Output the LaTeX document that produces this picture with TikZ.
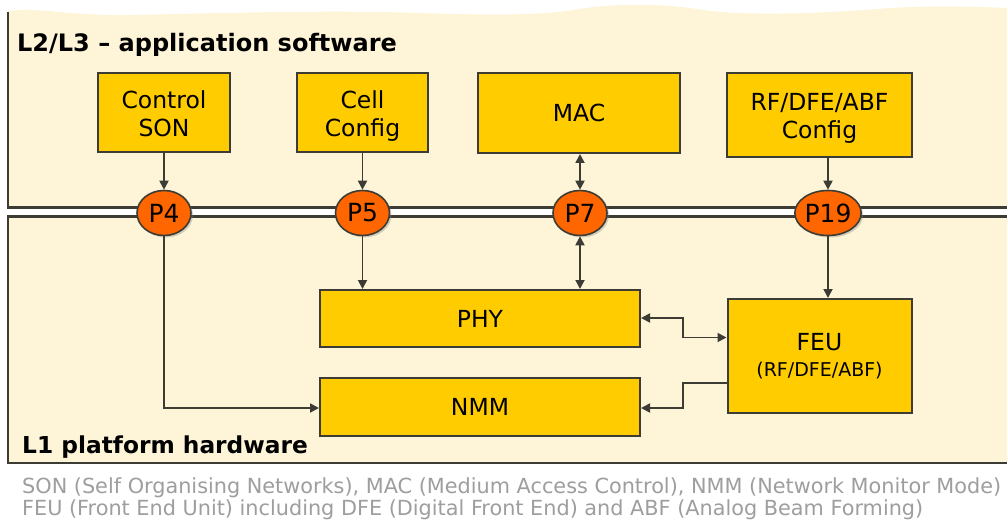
\documentclass[tikz,border=0pt]{standalone}
\usepackage{fontspec}
\setmainfont{DejaVu Sans}
\usetikzlibrary{arrows.meta,shapes.geometric,shadows}
\definecolor{panel}{HTML}{FEF5D8}
\definecolor{boxfill}{HTML}{FFCC00}
\definecolor{edge}{HTML}{3C3C35}
\definecolor{portfill}{HTML}{FF6600}
\definecolor{note}{HTML}{9E9E9E}
% line strut for two-line block labels
\newcommand\blkstrut{\rule[-3pt]{0pt}{27pt}}
\begin{document}
\begin{tikzpicture}[x=1pt,y=-1pt,
  block/.style={draw=edge, line width=2pt, fill=boxfill, align=center,
    inner sep=0pt, font=\fontsize{23.5}{28}\selectfont},
  portnode/.style={ellipse, draw=edge, line width=1.6pt, fill=portfill,
    minimum width=54pt, minimum height=45pt, inner sep=0pt,
    font=\fontsize{25}{28}\selectfont,
    drop shadow={shadow xshift=2pt, shadow yshift=-2pt, opacity=0.35}},
  layertitle/.style={font=\bfseries\fontsize{24}{28}\selectfont, anchor=base west, inner sep=0pt},
  conn/.style={draw=edge, line width=1.8pt, -{Triangle[length=9pt,width=9pt]}},
  bothconn/.style={draw=edge, line width=1.8pt, {Triangle[length=9pt,width=9pt]}-{Triangle[length=9pt,width=9pt]}},
  busline/.style={draw=edge, line width=2.4pt},
  notetext/.style={text=note, font=\fontsize{20.8}{24}\selectfont, anchor=base west, inner sep=0pt}
]
\useasboundingbox (0,0) rectangle (1007,524);
\fill[white] (0,0) rectangle (1007,524);

% upper layer panel with a torn top edge
\fill[panel] (8,207) -- (8,11)
  .. controls (40,7) and (70,16) .. (130,15)
  .. controls (220,13) and (330,10) .. (420,13)
  .. controls (480,15) and (540,16) .. (580,9)
  .. controls (610,4) and (660,2) .. (710,11)
  .. controls (760,16) and (830,13) .. (890,8)
  .. controls (940,5) and (980,7) .. (1007,8)
  -- (1007,207) -- cycle;
% lower layer panel
\fill[panel] (8,217) rectangle (1007,463);

% panel borders and the bus between the layers
\fill[white] (8,208) rectangle (1007,216);
\draw[busline] (8,12) -- (8,207.5) -- (1007,207.5);
\draw[busline] (1007,216.5) -- (8,216.5) -- (8,463) -- (1007,463);

% layer titles
\node[layertitle] (ttop) at (17,52) {L2/L3 – application software};
\node[layertitle, font=\bfseries\fontsize{23.3}{28}\selectfont] (tbot) at (22,453) {L1 platform hardware};

% application software blocks
\node[block, minimum width=132pt, minimum height=79pt] (son) at (164,112.5) {Control\blkstrut\\SON\blkstrut};
\node[block, minimum width=131pt, minimum height=79pt] (cell) at (362.5,112.5) {Cell\blkstrut\\Config\blkstrut};
\node[block, minimum width=202pt, minimum height=80pt] (mac) at (579,113) {MAC};
\node[block, minimum width=185pt, minimum height=84pt] (rfc) at (819.5,115) {RF/DFE/ABF\blkstrut\\Config\blkstrut};

% hardware blocks
\node[block, minimum width=320pt, minimum height=57pt] (phy) at (480,318.5) {PHY};
\node[block, minimum width=320pt, minimum height=58pt] (nmm) at (480,407) {NMM};
\node[block, minimum width=184pt, minimum height=114pt] (feu) at (819.5,356)
  {FEU\\[-2pt]{\fontsize{19}{22}\selectfont (RF/DFE/ABF)}};

% interface points on the bus
\node[portnode] (p4) at (164,213) {P4};
\node[portnode] (p5) at (362.5,213) {P5};
\node[portnode] (p7) at (580,213) {P7};
\node[portnode] (p19) at (828,213) {P19};

% bend points
\coordinate (c4) at (164,408);
\coordinate (ca) at (683,318);
\coordinate (cb) at (683,337.5);
\coordinate (cc) at (683,383);
\coordinate (cd) at (683,408);

% connectors
\draw[conn] (son.south) -- (p4.north);
\draw[conn] (p4.south) -- (c4) -- (nmm.west |- c4);
\draw[conn] (cell.south) -- (p5.north);
\draw[conn] (p5.south) -- (phy.north -| p5);
\draw[bothconn] (mac.south -| p7) -- (p7.north);
\draw[bothconn] (p7.south) -- (phy.north -| p7);
\draw[conn] (rfc.south -| p19) -- (p19.north);
\draw[conn] (p19.south) -- (feu.north -| p19);
\draw[bothconn] (phy.east |- ca) -- (ca) -- (cb) -- (feu.west |- cb);
\draw[conn] (feu.west |- cc) -- (cc) -- (cd) -- (nmm.east |- cd);

% abbreviations
\node[notetext] (n1) at (22,493) {SON (Self Organising Networks), MAC (Medium Access Control), NMM (Network Monitor Mode)};
\node[notetext] (n2) at (22,515) {FEU (Front End Unit) including DFE (Digital Front End) and ABF (Analog Beam Forming)};
\end{tikzpicture}
\end{document}
